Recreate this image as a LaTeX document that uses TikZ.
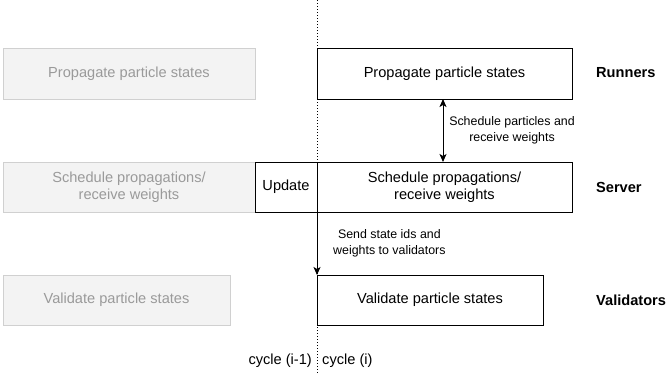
\documentclass[tikz,border=0pt]{standalone}
\usepackage{fontspec}
\setmainfont{Liberation Sans}
\usetikzlibrary{arrows.meta}
\definecolor{ghostfill}{HTML}{F3F3F3}
\definecolor{ghostline}{HTML}{D0D0D0}
\definecolor{ghosttext}{HTML}{9A9A9A}
\newcommand{\mainsz}{\fontsize{14.6}{17}\selectfont}
\newcommand{\smallsz}{\fontsize{12.4}{16}\selectfont}
\begin{document}
\begin{tikzpicture}[x=1pt,y=-1pt,
  box/.style={draw=black,line width=1pt,fill=white,rectangle,align=center,
    inner sep=0pt,outer sep=0pt,font=\mainsz,text=black},
  ghost/.style={draw=ghostline,line width=1pt,fill=ghostfill,rectangle,align=center,
    inner sep=0pt,outer sep=0pt,font=\mainsz,text=ghosttext},
  role/.style={anchor=west,font=\mainsz\bfseries,inner sep=0pt},
  edgelbl/.style={font=\smallsz,align=center,inner sep=0pt},
  arr/.style={line width=1pt,-{Stealth[length=8pt,width=7pt,inset=2pt]}},
  darr/.style={line width=1pt,{Stealth[length=8pt,width=7pt,inset=2pt]}-{Stealth[length=8pt,width=7pt,inset=2pt]}}
]
\useasboundingbox (0,0) rectangle (667,375);
% dotted cycle separator
\coordinate (septop) at (317,0);
\coordinate (sepbot) at (317,375);
\draw[line width=0.9pt,dash pattern=on 1pt off 2pt] (septop) -- (sepbot);

% previous cycle (ghost)
\node[ghost,minimum width=252pt,minimum height=51pt] (g1) at (129,73.5) {Propagate particle states};
\node[ghost,minimum width=252pt,minimum height=50pt] (g2) at (129,187) {Schedule propagations/\\receive weights};
\node[ghost,minimum width=227pt,minimum height=50pt] (g3) at (116.5,300) {Validate particle states};

% current cycle
\node[box,minimum width=255pt,minimum height=51pt] (run) at (444.5,73.5) {Propagate particle states};
\node[box,minimum width=62pt,minimum height=50pt] (upd) at (286,187) {Update};
\node[box,minimum width=255pt,minimum height=50pt] (srv) at (444.5,187) {Schedule propagations/\\receive weights};
\node[box,minimum width=226pt,minimum height=50pt] (val) at (430,300) {Validate particle states};

% roles
\node[role] (lrun) at (596,73) {Runners};
\node[role] (lsrv) at (596,187) {Server};
\node[role] (lval) at (596,300) {Validators};

% connectors
\draw[darr] (run.south) ++(-1.5,0) coordinate (a1) -- (a1 |- srv.north);
\node[edgelbl] (l1) at (512,130) {Schedule particles and\\receive weights};
\draw[arr] (upd.south east) -- (val.north west);
\node[edgelbl,anchor=west] (l2) at (333,243.5) {Send state ids and\\weights to validators};

% cycle labels
\node[font=\mainsz,anchor=east,inner sep=0pt] (cprev) at (312,361) {cycle (i-1)};
\node[font=\mainsz,anchor=west,inner sep=0pt] (ccur) at (322,361) {cycle (i)};
\end{tikzpicture}
\end{document}
